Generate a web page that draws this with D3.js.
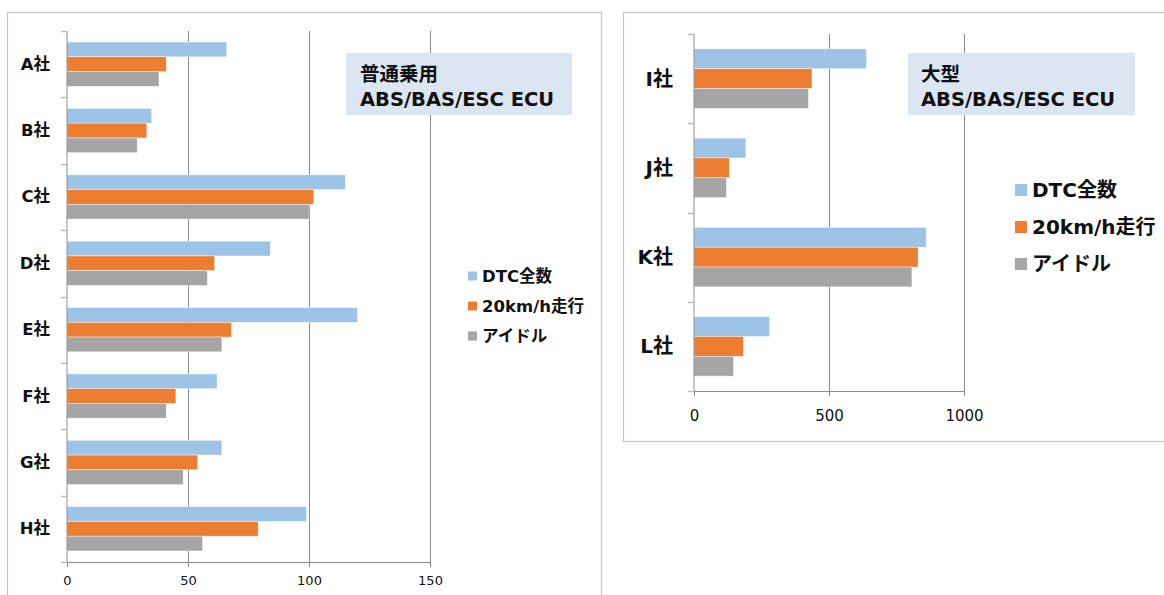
<!DOCTYPE html>
<html>
<head>
<meta charset="utf-8">
<script src="https://cdn.jsdelivr.net/npm/d3@7"></script>
<style>
  html, body { margin: 0; padding: 0; background: #fff; }
  svg { display: block; }
  text { font-family: "DejaVu Sans", "Noto Sans CJK JP", sans-serif; }
</style>
</head>
<body>
<svg id="chart" width="1164" height="595"></svg>
<script>
// ---------- data ----------
const seriesNames = ["DTC全数", "20km/h走行", "アイドル"];
const seriesColors = ["#9dc3e6", "#ed7d31", "#a5a5a5"];

const leftCategories = ["A社", "B社", "C社", "D社", "E社", "F社", "G社", "H社"];
const leftDTC  = [66, 35, 115, 84, 120, 62, 64, 99];
const left20   = [41, 33, 102, 61, 68, 45, 54, 79];
const leftIdle = [38, 29, 100, 58, 64, 41, 48, 56];
const leftTicks = [0, 50, 100, 150];
const leftTitle = ["普通乗用", "ABS/BAS/ESC ECU"];

const rightCategories = ["I社", "J社", "K社", "L社"];
const rightDTC  = [639, 192, 860, 280];
const right20   = [437, 131, 830, 183];
const rightIdle = [424, 120, 807, 146];
const rightTicks = [0, 500, 1000];
const rightTitle = ["大型", "ABS/BAS/ESC ECU"];

// ---------- drawing ----------
const svg = d3.select("#chart");

function drawPanel(cfg) {
  const g = svg.append("g");
  // frame
  g.append("rect")
    .attr("x", cfg.frame.x + 0.5).attr("y", cfg.frame.y + 0.5)
    .attr("width", cfg.frame.w).attr("height", cfg.frame.h)
    .attr("fill", "#fff").attr("stroke", "#c6c6c6").attr("stroke-width", 1.2);

  const x = d3.scaleLinear().domain([0, cfg.ticks[cfg.ticks.length - 1]])
    .range([cfg.plot.x0, cfg.plot.x1]);
  const y = d3.scaleBand().domain(cfg.categories)
    .range([cfg.plot.y0, cfg.plot.y1])
    .paddingInner(1.5 / 4.5).paddingOuter(0.75 / 4.5);
  const ys = d3.scaleBand().domain(d3.range(3)).range([0, y.bandwidth()]);

  // gridlines
  g.append("g").selectAll("line")
    .data(cfg.ticks.filter(t => t > 0))
    .join("line")
    .attr("x1", d => Math.round(x(d)) + 0.5).attr("x2", d => Math.round(x(d)) + 0.5)
    .attr("y1", cfg.plot.y0).attr("y2", cfg.plot.y1)
    .attr("stroke", "#8c8c8c").attr("stroke-width", 1);

  // bars
  const values = [cfg.s0, cfg.s1, cfg.s2];
  const rows = [];
  cfg.categories.forEach((c, i) => {
    values.forEach((arr, s) => rows.push({ c, s, v: arr[i] }));
  });
  g.append("g").selectAll("rect")
    .data(rows)
    .join("rect")
    .attr("x", x(0))
    .attr("y", d => y(d.c) + ys(d.s))
    .attr("width", d => x(d.v) - x(0))
    .attr("height", ys.bandwidth())
    .attr("fill", d => seriesColors[d.s])
    .attr("stroke", "#ffffff").attr("stroke-width", 0.6).attr("stroke-opacity", 0.7);

  // x axis
  const xAxis = d3.axisBottom(x).tickValues(cfg.ticks).tickFormat(d3.format("d"))
    .tickSize(5).tickPadding(cfg.tickPad);
  const gx = g.append("g").attr("transform", `translate(0,${cfg.plot.y1})`).call(xAxis);
  gx.select(".domain").attr("stroke", "#8c8c8c");
  gx.selectAll(".tick line").attr("stroke", "#8c8c8c");
  gx.selectAll(".tick text")
    .attr("font-size", cfg.tickFont).attr("fill", "#111")
    .style("font-family", "'DejaVu Sans', sans-serif");

  // y axis line with ticks at band boundaries
  const bounds = cfg.categories.map(c => y(c) - y.step() * y.paddingOuter());
  bounds.push(cfg.plot.y1);
  g.append("line")
    .attr("x1", x(0)).attr("x2", x(0))
    .attr("y1", cfg.plot.y0).attr("y2", cfg.plot.y1)
    .attr("stroke", "#8c8c8c");
  g.append("g").selectAll("line")
    .data(bounds)
    .join("line")
    .attr("x1", x(0) - 6).attr("x2", x(0))
    .attr("y1", d => Math.round(d) + 0.5).attr("y2", d => Math.round(d) + 0.5)
    .attr("stroke", "#bdbdbd").attr("stroke-width", 1.5);

  // category labels
  g.append("g").selectAll("text")
    .data(cfg.categories)
    .join("text")
    .attr("x", cfg.catX)
    .attr("y", d => y(d) + y.bandwidth() / 2)
    .attr("text-anchor", "end")
    .attr("dominant-baseline", "central")
    .attr("font-size", cfg.catFont).attr("font-weight", "bold").attr("fill", "#111")
    .text(d => d);

  // title box
  g.append("rect")
    .attr("x", cfg.box.x).attr("y", cfg.box.y)
    .attr("width", cfg.box.w).attr("height", cfg.box.h)
    .attr("fill", "#dce6f2");
  g.append("g").selectAll("text")
    .data(cfg.title)
    .join("text")
    .attr("x", cfg.box.tx)
    .attr("y", (d, i) => cfg.box.ty + i * 25)
    .attr("dominant-baseline", "central")
    .attr("font-size", 19.5).attr("font-weight", "bold").attr("fill", "#111")
    .text(d => d);

  // legend
  const lg = g.append("g");
  const li = lg.selectAll("g").data(seriesNames).join("g")
    .attr("transform", (d, i) => `translate(${cfg.legend.x},${cfg.legend.y + i * cfg.legend.dy})`);
  li.append("rect")
    .attr("x", 0).attr("y", -cfg.legend.sq / 2)
    .attr("width", cfg.legend.sq).attr("height", cfg.legend.sq)
    .attr("fill", (d, i) => seriesColors[i]);
  li.append("text")
    .attr("x", cfg.legend.tx).attr("y", 0)
    .attr("dominant-baseline", "central")
    .attr("font-size", cfg.legend.font).attr("font-weight", "bold").attr("fill", "#111")
    .text(d => d);
}

drawPanel({
  frame: { x: 7, y: 12, w: 594, h: 600 },
  plot: { x0: 67, x1: 430, y0: 31, y1: 562 },
  categories: leftCategories, s0: leftDTC, s1: left20, s2: leftIdle,
  ticks: leftTicks, tickFont: 13, tickPad: 9,
  catX: 50, catFont: 16.5,
  box: { x: 346, y: 53, w: 226, h: 62, tx: 360, ty: 74 },
  title: leftTitle,
  legend: { x: 468, y: 276, dy: 30, sq: 9, tx: 14, font: 16.5 }
});

drawPanel({
  frame: { x: 623, y: 12, w: 560, h: 429 },
  plot: { x0: 694, x1: 964, y0: 34, y1: 391 },
  categories: rightCategories, s0: rightDTC, s1: right20, s2: rightIdle,
  ticks: rightTicks, tickFont: 15, tickPad: 14,
  catX: 673, catFont: 20,
  box: { x: 908, y: 53, w: 227, h: 62, tx: 921, ty: 74 },
  title: rightTitle,
  legend: { x: 1015, y: 190, dy: 37, sq: 12, tx: 17, font: 20 }
});
</script>
</body>
</html>
